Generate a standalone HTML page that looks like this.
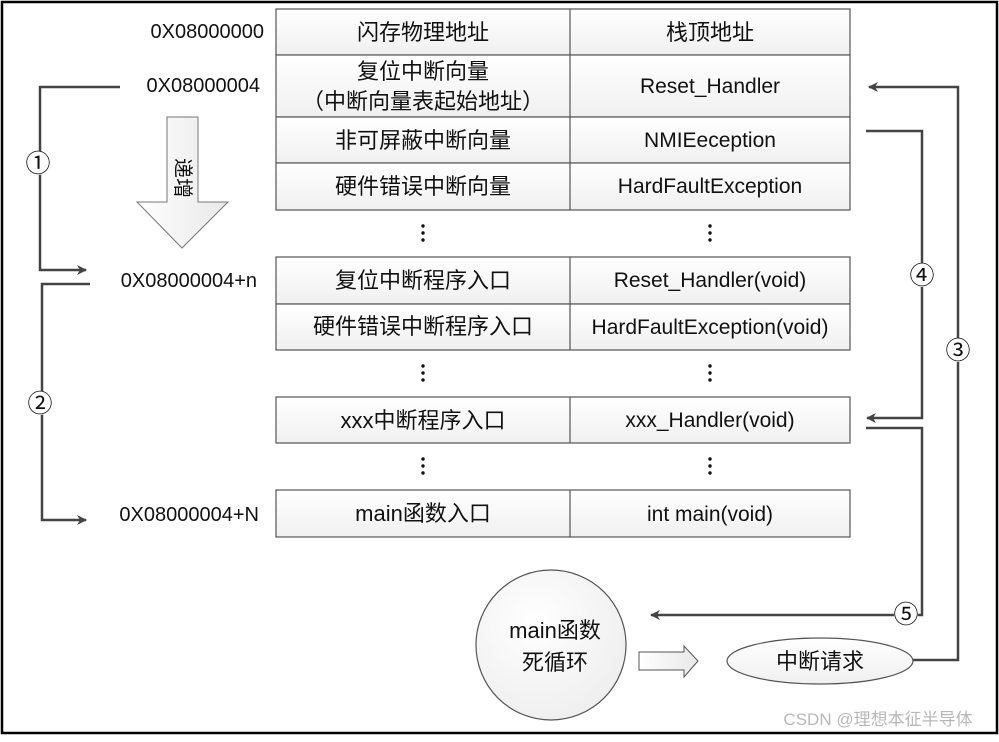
<!DOCTYPE html>
<html><head><meta charset="utf-8"><style>
body{margin:0;background:#fff}
text{font-family:"Liberation Sans","Noto Sans CJK SC",sans-serif;fill:#111}
</style></head><body>
<svg width="999" height="737" viewBox="0 0 999 737" xmlns="http://www.w3.org/2000/svg">
<defs>
<linearGradient id="g" x1="0" y1="0" x2="0" y2="1"><stop offset="0" stop-color="#fff"/><stop offset="1" stop-color="#f0f0f0"/></linearGradient>
<radialGradient id="rg" cx="0.4" cy="0.35" r="0.7"><stop offset="0" stop-color="#fff"/><stop offset="1" stop-color="#eeeeee"/></radialGradient>
<linearGradient id="ag" x1="0" y1="0" x2="1" y2="0"><stop offset="0" stop-color="#fff"/><stop offset="1" stop-color="#e8e8e8"/></linearGradient>
<marker id="ah" markerWidth="10" markerHeight="10" refX="9" refY="5" orient="auto" markerUnits="userSpaceOnUse"><path d="M0,0 L10,5 L0,10 L3,5 z" fill="#444"/></marker>
</defs>
<rect x="2" y="2" width="995" height="731" fill="#fff" stroke="#000" stroke-width="2.5"/>
<g stroke="#555" stroke-width="1.2" fill="url(#g)">
<rect x="276" y="9" width="574" height="46"/><line x1="570" y1="9" x2="570" y2="55"/>
<rect x="276" y="55" width="574" height="62"/><line x1="570" y1="55" x2="570" y2="117"/>
<rect x="276" y="117" width="574" height="46"/><line x1="570" y1="117" x2="570" y2="163"/>
<rect x="276" y="163" width="574" height="47"/><line x1="570" y1="163" x2="570" y2="210"/>
<rect x="276" y="257" width="574" height="47"/><line x1="570" y1="257" x2="570" y2="304"/>
<rect x="276" y="304" width="574" height="46"/><line x1="570" y1="304" x2="570" y2="350"/>
<rect x="276" y="397" width="574" height="46"/><line x1="570" y1="397" x2="570" y2="443"/>
<rect x="276" y="490" width="574" height="47"/><line x1="570" y1="490" x2="570" y2="537"/>
</g>
<g font-size="22" text-anchor="middle">
<text x="423" y="40">闪存物理地址</text><text x="710" y="40">栈顶地址</text>
<text x="423" y="79">复位中断向量</text><text x="423" y="109">（中断向量表起始地址）</text><text x="710" y="93" font-size="21">Reset_Handler</text>
<text x="423" y="148">非可屏蔽中断向量</text><text x="710" y="147" font-size="21">NMIEeception</text>
<text x="423" y="194">硬件错误中断向量</text><text x="710" y="193" font-size="21">HardFaultException</text>
<text x="423" y="288">复位中断程序入口</text><text x="710" y="287" font-size="21">Reset_Handler(void)</text>
<text x="423" y="334">硬件错误中断程序入口</text><text x="710" y="334" font-size="21">HardFaultException(void)</text>
<text x="423" y="428">xxx中断程序入口</text><text x="710" y="427" font-size="21">xxx_Handler(void)</text>
<text x="423" y="521">main函数入口</text><text x="710" y="521" font-size="21">int main(void)</text>
</g>
<g fill="#111">
<circle cx="423" cy="226" r="1.7"/><circle cx="423" cy="233" r="1.7"/><circle cx="423" cy="240" r="1.7"/>
<circle cx="710" cy="226" r="1.7"/><circle cx="710" cy="233" r="1.7"/><circle cx="710" cy="240" r="1.7"/>
<circle cx="423" cy="366" r="1.7"/><circle cx="423" cy="373" r="1.7"/><circle cx="423" cy="380" r="1.7"/>
<circle cx="710" cy="366" r="1.7"/><circle cx="710" cy="373" r="1.7"/><circle cx="710" cy="380" r="1.7"/>
<circle cx="423" cy="459" r="1.7"/><circle cx="423" cy="466" r="1.7"/><circle cx="423" cy="473" r="1.7"/>
<circle cx="710" cy="459" r="1.7"/><circle cx="710" cy="466" r="1.7"/><circle cx="710" cy="473" r="1.7"/>
</g>
<g font-size="20" text-anchor="end">
<text x="264" y="38">0X08000000</text>
<text x="260" y="92">0X08000004</text>
<text x="257" y="287">0X08000004+n</text>
<text x="259" y="521">0X08000004+N</text>
</g>
<path d="M167,117 L198,117 L198,202 L228,202 L182,248 L137,202 L167,202 z" fill="url(#ag)" stroke="#777" stroke-width="1"/>
<text font-size="20" transform="translate(176,178) rotate(90)" text-anchor="middle">递增</text>
<g stroke="#444" stroke-width="2.5" fill="none">
<path d="M120,87 L40,87 L40,270 L86,270" marker-end="url(#ah)"/>
<path d="M90,284 L42,284 L42,520 L86,520" marker-end="url(#ah)"/>
<path d="M913,660 L958,660 L958,87 L869,87" marker-end="url(#ah)"/>
<path d="M866,131 L922,131 L922,418 L867,418" marker-end="url(#ah)"/>
<path d="M866,428 L922,428 L922,615 L651,615" marker-end="url(#ah)"/>
</g>
<g font-size="25" text-anchor="middle" font-family="DejaVu Sans">
<circle cx="38" cy="163" r="12" fill="#fff"/><text x="38" y="172">①</text>
<circle cx="40" cy="403" r="12" fill="#fff"/><text x="40" y="412">②</text>
<circle cx="958" cy="350" r="12" fill="#fff"/><text x="958" y="359">③</text>
<circle cx="922" cy="275" r="12" fill="#fff"/><text x="922" y="284">④</text>
<circle cx="906" cy="614" r="12" fill="#fff"/><text x="906" y="623">⑤</text>
</g>
<circle cx="551" cy="645" r="75" fill="url(#rg)" stroke="#555" stroke-width="1.2"/>
<text x="555" y="638" font-size="22" text-anchor="middle">main函数</text>
<text x="555" y="670" font-size="22" text-anchor="middle">死循环</text>
<path d="M639,652 L684,652 L684,646 L698,661 L684,677 L684,670 L639,670 z" fill="url(#ag)" stroke="#555" stroke-width="1"/>
<ellipse cx="820" cy="661" rx="93" ry="23" fill="url(#g)" stroke="#555" stroke-width="1.2"/>
<text x="820" y="669" font-size="22" text-anchor="middle">中断请求</text>
<text x="878" y="725" font-size="17" text-anchor="middle" style="fill:#b8b8b8">CSDN @理想本征半导体</text>
</svg>
</body></html>
